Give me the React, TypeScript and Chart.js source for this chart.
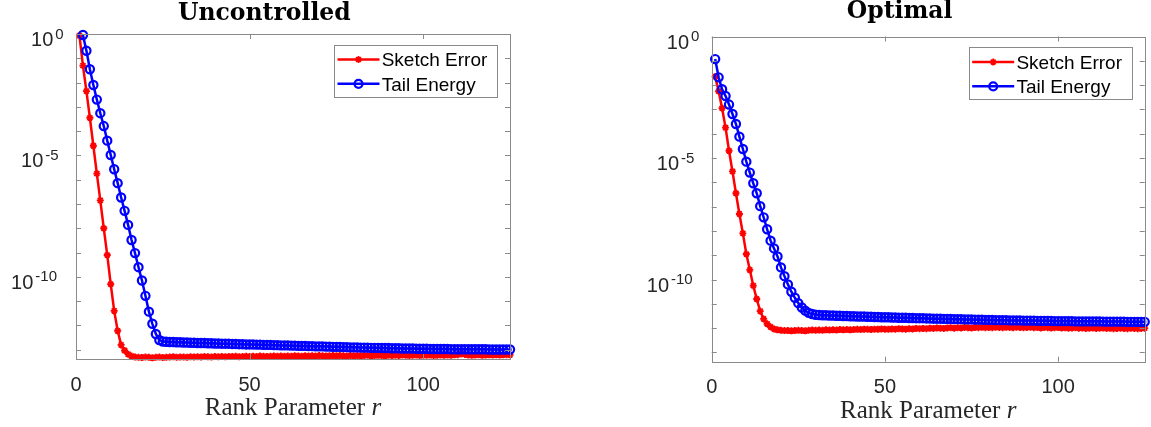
import React, { useEffect, useRef } from 'react';
import { Chart, registerables } from 'chart.js';

Chart.register(...registerables);

// ---------------- data ----------------
const ranks: number[] = Array.from({ length: 125 }, (_, i) => i + 1);
const xTickValues = [0, 50, 100];
const yTickExponents = [-13, -12, -11, -10, -9, -8, -7, -6, -5, -4, -3, -2, -1, 0];
const yLabelExponents = [0, -5, -10];
const yMinExponent = -13.38;
const xMax = 125;
const seriesNames = ['Sketch Error', 'Tail Energy'];
const panelTitles = ['Uncontrolled', 'Optimal'];
const xAxisLabelText = 'Rank Parameter ';
const xAxisLabelVar = 'r';

// log10 of the plotted values, r = 1..125
const sketchErrorUncontrolledLog10: (number | null)[] = [
  -0.07, -1.30, -2.35, -3.45, -4.60, -5.75, -6.85, -8.00, -9.10, -10.30, -11.40, -12.22, -12.80, -13.03, -13.18, -13.26, -13.30,
  -13.31, -13.32, -13.30, -13.31, -13.33, -13.31, -13.30, -13.32, -13.31, -13.30, -13.29, -13.31, -13.30, -13.30, -13.31, -13.29, -13.30, -13.29, -13.30, -13.28, -13.29, -13.30, -13.28,
  -13.29, -13.28, -13.29, -13.28, -13.28, -13.27, -13.29, -13.28, -13.27, -13.28, -13.27, -13.28, -13.26, -13.27, -13.28, -13.27, -13.26, -13.27, -13.26, -13.27,
  -13.26, -13.27, -13.25, -13.26, -13.27, -13.25, -13.26, -13.25, -13.26, -13.24, -13.25, -13.26, -13.25, -13.24, -13.25, -13.24, -13.25, -13.26, -13.24, -13.25,
  -13.24, -13.25, -13.24, -13.23, -13.25, -13.24, -13.23, -13.24, -13.25, -13.23, -13.24, -13.23, -13.24, -13.22, -13.23, -13.24, -13.23, -13.22, -13.24, -13.23,
  -13.23, -13.22, -13.24, -13.23, -13.22, -13.23, -13.22, -13.23, -13.21, -13.20, -13.17, -13.19, -13.22, -13.23, -13.22, -13.21, -13.23, -13.22, -13.21, -13.22, -13.21, -13.22, -13.21, -13.20, -13.21,
];

const tailEnergyUncontrolledLog10: (number | null)[] = [
  null,
  -0.04, -0.69, -1.45, -2.10, -2.70, -3.26, -3.79, -4.39, -4.98, -5.57, -6.14, -6.73, -7.28, -7.86, -8.48, -9.02, -9.60, -10.15, -10.78, -11.43, -11.93, -12.35, -12.60, -12.66,
  -12.67, -12.68, -12.68, -12.69, -12.69, -12.70, -12.70, -12.71, -12.71, -12.72,
  -12.72, -12.72, -12.73, -12.73, -12.74, -12.74, -12.75, -12.75, -12.75, -12.76,
  -12.76, -12.77, -12.77, -12.78, -12.78, -12.78, -12.79, -12.79, -12.80, -12.80,
  -12.80, -12.81, -12.81, -12.82, -12.82, -12.82, -12.83, -12.83, -12.84, -12.84,
  -12.84, -12.85, -12.85, -12.86, -12.86, -12.86, -12.87, -12.87, -12.88, -12.88,
  -12.88, -12.89, -12.89, -12.90, -12.90, -12.90, -12.91, -12.91, -12.91, -12.92,
  -12.92, -12.92, -12.93, -12.93, -12.93, -12.94, -12.94, -12.94, -12.95, -12.95,
  -12.95, -12.95, -12.96, -12.96, -12.96, -12.96, -12.97, -12.97, -12.97, -12.97,
  -12.97, -12.97, -12.98, -12.98, -12.98, -12.98, -12.98, -12.98, -12.98, -12.98,
  -12.98, -12.98, -12.98, -12.99, -12.99, -12.99, -12.99, -12.99, -12.99, -12.99,
];

const sketchErrorOptimalLog10: (number | null)[] = [
  -1.65, -2.25, -2.95, -3.75, -4.70, -5.55, -6.45, -7.30, -8.10, -8.95, -9.60, -10.25, -10.80, -11.30, -11.62, -11.82, -11.95, -12.03, -12.07,
  -12.09, -12.10, -12.10, -12.11, -12.10, -12.09, -12.10, -12.11, -12.09, -12.08, -12.09, -12.08, -12.09, -12.07, -12.08, -12.07, -12.08, -12.06, -12.07, -12.06, -12.07,
  -12.06, -12.05, -12.06, -12.04, -12.05, -12.06, -12.04, -12.05, -12.03, -12.04, -12.05, -12.03, -12.04, -12.02, -12.03, -12.04, -12.02, -12.03, -12.01, -12.02,
  -12.01, -12.02, -12.00, -12.01, -11.99, -12.00, -12.01, -11.99, -11.98, -12.00, -11.98, -11.99, -11.97, -11.98, -11.99, -11.97, -11.98, -11.96, -11.98, -11.97,
  -11.98, -11.96, -11.97, -11.98, -11.96, -11.97, -11.98, -11.96, -11.97, -11.98, -11.97, -11.96, -11.98, -11.97, -11.99, -11.97, -11.98, -11.99, -11.98, -11.97,
  -11.99, -11.98, -12.00, -11.99, -11.98, -12.00, -11.99, -12.01, -12.00, -11.99, -12.01, -12.00, -11.99, -12.01, -12.00, -12.02, -12.01, -12.00, -12.01, -12.02, -12.00, -12.01, -12.02, -12.01, -12.00,
];

const tailEnergyOptimalLog10: (number | null)[] = [
  -0.93, -1.68, -2.17, -2.45, -2.80, -3.19, -3.60, -4.12, -4.63, -5.15, -5.60, -6.04, -6.45, -6.98, -7.44, -7.93, -8.40, -8.72, -9.05, -9.50, -9.86, -10.20, -10.50, -10.75, -10.97, -11.15, -11.28, -11.37, -11.42, -11.45, -11.46,
  -11.47, -11.47, -11.48, -11.48, -11.49, -11.49, -11.50, -11.50, -11.51, -11.51,
  -11.52, -11.52, -11.52, -11.53, -11.53, -11.54, -11.54, -11.55, -11.55, -11.55,
  -11.56, -11.56, -11.57, -11.57, -11.57, -11.58, -11.58, -11.59, -11.59, -11.59,
  -11.60, -11.60, -11.61, -11.61, -11.61, -11.62, -11.62, -11.62, -11.63, -11.63,
  -11.63, -11.64, -11.64, -11.64, -11.65, -11.65, -11.65, -11.66, -11.66, -11.66,
  -11.67, -11.67, -11.67, -11.67, -11.68, -11.68, -11.68, -11.68, -11.69, -11.69,
  -11.69, -11.69, -11.70, -11.70, -11.70, -11.70, -11.70, -11.71, -11.71, -11.71,
  -11.71, -11.71, -11.71, -11.72, -11.72, -11.72, -11.72, -11.72, -11.72, -11.72,
  -11.72, -11.73, -11.73, -11.73, -11.73, -11.73, -11.73, -11.73, -11.74, -11.74,
  -11.74, -11.74, -11.74, -11.74,
];

// ---------------- styling ----------------
const SANS = '"Liberation Sans", Arial, Helvetica, sans-serif';
const SERIF = '"Liberation Serif", "Times New Roman", serif';
const TITLE_FONT = 'bold 23.5px "DejaVu Serif", serif';
const RED = '#ff0000';
const BLUE = '#0000ff';
const AXIS_GRAY = '#8a8a8a';
const TEXT_DARK = '#262626';
const H = 427;

type Geo = {
  left: number;
  width: number;
  yAxisWidth: number;
  padRight: number;
  padTop: number;
  xAxisHeight: number;
  titleBaseline: number;
};

const geos: Geo[] = [
  { left: 0, width: 575, yAxisWidth: 76, padRight: 65, padTop: 34, xAxisHeight: 68, titleBaseline: 19.5 },
  { left: 575, width: 576, yAxisWidth: 136.7, padRight: 5, padTop: 36.5, xAxisHeight: 65.3, titleBaseline: 17.5 },
];

function toPoints(logs: (number | null)[]) {
  return ranks.map((r, i) => ({ x: r, y: logs[i] == null ? null : Math.pow(10, logs[i] as number) }));
}

function drawStar(ctx: CanvasRenderingContext2D, x: number, y: number, r: number) {
  ctx.beginPath();
  ctx.moveTo(x - r, y); ctx.lineTo(x + r, y);
  ctx.moveTo(x, y - r); ctx.lineTo(x, y + r);
  const d = r * 0.7071;
  ctx.moveTo(x - d, y - d); ctx.lineTo(x + d, y + d);
  ctx.moveTo(x - d, y + d); ctx.lineTo(x + d, y - d);
  ctx.stroke();
}

function makeDecor(title: string, titleBaseline: number) {
  return {
    id: 'matlabDecor',
    afterDraw(chart: any) {
      const ctx: CanvasRenderingContext2D = chart.ctx;
      const a = chart.chartArea;
      const ys = chart.scales.y;
      const xs = chart.scales.x;
      ctx.save();

      // box
      ctx.strokeStyle = AXIS_GRAY;
      ctx.lineWidth = 1;
      ctx.strokeRect(Math.round(a.left) + 0.5, Math.round(a.top) + 0.5, Math.round(a.right - a.left), Math.round(a.bottom - a.top));

      // inward tick marks
      ctx.beginPath();
      for (const k of yTickExponents) {
        const y = Math.round(ys.getPixelForValue(Math.pow(10, k))) + 0.5;
        ctx.moveTo(a.left, y); ctx.lineTo(a.left + 5, y);
        ctx.moveTo(a.right, y); ctx.lineTo(a.right - 5, y);
      }
      for (const v of xTickValues) {
        const x = Math.round(xs.getPixelForValue(v)) + 0.5;
        ctx.moveTo(x, a.bottom); ctx.lineTo(x, a.bottom - 5);
        ctx.moveTo(x, a.top); ctx.lineTo(x, a.top + 5);
      }
      ctx.stroke();

      // y tick labels with superscripts
      ctx.fillStyle = TEXT_DARK;
      for (const k of yLabelExponents) {
        const y = ys.getPixelForValue(Math.pow(10, k));
        const expStr = k === 0 ? '0' : '-' + Math.abs(k);
        const baseRight = a.left - 22.7 - 10 * (expStr.length - 1);
        ctx.font = `20px ${SANS}`;
        ctx.textAlign = 'right';
        ctx.textBaseline = 'alphabetic';
        ctx.fillText('10', baseRight, y + 12);
        ctx.font = `15px ${SANS}`;
        ctx.textAlign = 'left';
        ctx.fillText(expStr, baseRight + 2, y + 4.5);
      }

      // x axis label
      const cx = (a.left + a.right) / 2;
      ctx.font = `25px ${SERIF}`;
      const w1 = ctx.measureText(xAxisLabelText).width;
      ctx.font = `italic 25px ${SERIF}`;
      const w2 = ctx.measureText(xAxisLabelVar).width;
      const sx = cx - (w1 + w2) / 2;
      const by = a.bottom + 56;
      ctx.textAlign = 'left';
      ctx.font = `25px ${SERIF}`;
      ctx.fillText(xAxisLabelText, sx, by);
      ctx.font = `italic 25px ${SERIF}`;
      ctx.fillText(xAxisLabelVar, sx + w1, by);

      // title
      ctx.fillStyle = '#000';
      ctx.font = TITLE_FONT;
      ctx.textAlign = 'center';
      ctx.fillText(title, a.left + 0.434 * (a.right - a.left), titleBaseline);

      // legend
      const lw = 163, lh = 52;
      const lx = a.right - 13 - lw;
      const ly = a.top + 10.5;
      ctx.fillStyle = '#fff';
      ctx.fillRect(lx, ly, lw, lh);
      ctx.strokeStyle = AXIS_GRAY;
      ctx.lineWidth = 1;
      ctx.strokeRect(Math.round(lx) + 0.5, Math.round(ly) + 0.5, lw, lh);
      const rows = [ly + 15, ly + 39.3];
      const colors = [RED, BLUE];
      rows.forEach((ry, i) => {
        ctx.strokeStyle = colors[i];
        ctx.lineWidth = 2.5;
        ctx.beginPath();
        ctx.moveTo(lx + 3.5, ry); ctx.lineTo(lx + 45.5, ry);
        ctx.stroke();
        const mx = lx + 24.5;
        if (i === 0) {
          ctx.lineWidth = 1.8;
          drawStar(ctx, mx, ry, 3.4);
        } else {
          ctx.lineWidth = 2.2;
          ctx.beginPath();
          ctx.arc(mx, ry, 4, 0, Math.PI * 2);
          ctx.stroke();
        }
        ctx.fillStyle = '#000';
        ctx.font = `19px ${SANS}`;
        ctx.textAlign = 'left';
        ctx.textBaseline = 'alphabetic';
        ctx.fillText(seriesNames[i], lx + 47.7, ry + 6.8);
      });

      ctx.restore();
    },
  };
}

function Panel({ geo, title, sketch, tail }: { geo: Geo; title: string; sketch: (number | null)[]; tail: (number | null)[] }) {
  const ref = useRef<HTMLCanvasElement>(null);
  useEffect(() => {
    const chart = new Chart(ref.current as HTMLCanvasElement, {
      type: 'line',
      data: {
        datasets: [
          {
            label: seriesNames[1],
            data: toPoints(tail) as any,
            borderColor: BLUE,
            borderWidth: 2.5,
            pointStyle: 'circle',
            pointRadius: 4.1,
            pointBorderWidth: 2.2,
            pointBorderColor: BLUE,
            pointBackgroundColor: 'rgba(0,0,0,0)',
            tension: 0,
            spanGaps: false,
            clip: false as any,
            order: 0,
          },
          {
            label: seriesNames[0],
            data: toPoints(sketch) as any,
            borderColor: RED,
            borderWidth: 2.5,
            pointStyle: 'star',
            pointRadius: 3.5,
            pointBorderWidth: 1.9,
            pointBorderColor: RED,
            pointBackgroundColor: RED,
            tension: 0,
            clip: false as any,
            order: 1,
          },
        ],
      },
      options: {
        animation: false,
        responsive: false,
        maintainAspectRatio: false,
        devicePixelRatio: 1,
        events: [],
        layout: { padding: { left: 0, right: geo.padRight, top: geo.padTop, bottom: 0 } },
        plugins: { legend: { display: false }, tooltip: { enabled: false }, title: { display: false } },
        scales: {
          x: {
            type: 'linear',
            min: 0,
            max: xMax,
            grid: { display: false, drawTicks: false },
            border: { display: false },
            ticks: { font: { size: 20, family: SANS }, color: TEXT_DARK, padding: 14, maxRotation: 0, autoSkip: false },
            afterBuildTicks: (s: any) => { s.ticks = xTickValues.map((v) => ({ value: v })); },
            afterFit: (s: any) => { s.height = geo.xAxisHeight; },
          },
          y: {
            type: 'logarithmic',
            min: Math.pow(10, yMinExponent),
            max: 1,
            grid: { display: false, drawTicks: false },
            border: { display: false },
            ticks: { display: false },
            afterBuildTicks: (s: any) => { s.ticks = yTickExponents.map((k) => ({ value: Math.pow(10, k) })); },
            afterFit: (s: any) => { s.width = geo.yAxisWidth; },
          },
        },
      } as any,
      plugins: [makeDecor(title, geo.titleBaseline)],
    });
    return () => chart.destroy();
  }, []);
  return (
    <canvas
      ref={ref}
      width={geo.width}
      height={H}
      style={{ position: 'absolute', left: geo.left, top: 0, width: geo.width, height: H }}
    />
  );
}

export default function App() {
  return (
    <div style={{ position: 'absolute', left: 0, top: 0, width: 1151, height: H, background: '#fff', overflow: 'hidden' }}>
      <Panel geo={geos[0]} title={panelTitles[0]} sketch={sketchErrorUncontrolledLog10} tail={tailEnergyUncontrolledLog10} />
      <Panel geo={geos[1]} title={panelTitles[1]} sketch={sketchErrorOptimalLog10} tail={tailEnergyOptimalLog10} />
    </div>
  );
}
